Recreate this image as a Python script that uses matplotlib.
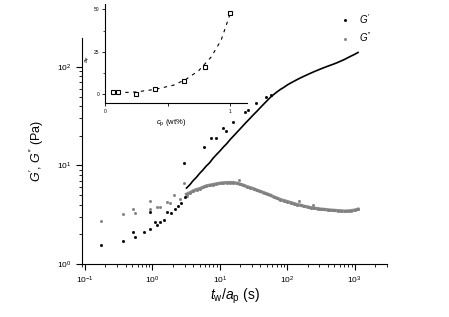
import matplotlib
matplotlib.use("Agg")
import matplotlib.pyplot as plt
from matplotlib.ticker import LogLocator, NullFormatter, FixedLocator

plt.rcParams['font.family'] = ['Liberation Sans', 'DejaVu Sans']
plt.rcParams['mathtext.fontset'] = 'custom'
plt.rcParams['mathtext.rm'] = 'Liberation Sans'
plt.rcParams['mathtext.it'] = 'Liberation Sans:italic'

# ---- main data: G' (storage) ----
gp_sparse_t = [0.17, 0.36, 0.515, 0.55, 0.75, 0.92, 0.92, 1.1, 1.17, 1.3, 1.49,
               1.65, 1.91, 2.19, 2.4, 2.63, 2.95, 3.05,
               5.77, 7.5, 8.9, 11.1, 12.2, 15.7, 23.4, 25.9, 34.9, 49, 58]
gp_sparse = [1.56, 1.71, 2.13, 1.89, 2.13, 2.28, 3.37, 2.69, 2.47, 2.69, 2.82,
             3.37, 3.32, 3.64, 3.9, 4.19, 10.7, 4.82,
             15.3, 18.9, 19.2, 23.9, 22.6, 27.8, 35.2, 36.6, 42.7, 50, 52]

gp_t = [3.2, 3.6, 4.0, 4.5, 5.0, 5.6, 6.3, 7.0, 7.9, 8.9, 10, 11.2, 12.6, 14.1,
        15.8, 17.8, 20, 22.4, 25.1, 28.2, 31.6, 35.5, 39.8, 44.7, 50, 56, 63,
        71, 79, 89, 100, 112, 126, 141, 158, 178, 200, 224, 251, 282, 316, 355,
        398, 447, 501, 562, 631, 708, 794, 891, 1000, 1120]
gp = [5.9, 6.4, 7.0, 7.6, 8.3, 9.0, 9.9, 10.6, 11.8, 12.9, 14.0, 15.3, 16.6,
      18.2, 19.8, 21.6, 23.5, 25.6, 27.8, 30.2, 32.8, 35.5, 38.6, 41.9, 45.3,
      49, 52.5, 56, 59, 62, 65.5, 68.5, 71.5, 74.5, 77.5, 80.5, 83.5, 86.5,
      89.5, 92.5, 95.5, 98.5, 101.5, 104.5, 107.5, 111, 115, 119, 124, 129,
      134, 140]

# ---- main data: G'' (loss) ----
gpp_sparse_t = [0.17, 0.36, 0.515, 0.55, 0.92, 0.92, 1.17, 1.3, 1.65, 1.85,
                2.1, 2.54, 2.95, 3.2, 19, 150, 240]
gpp_sparse = [2.75, 3.2, 3.6, 3.3, 4.4, 3.6, 3.8, 3.8, 4.3, 4.15,
              5.0, 4.6, 6.6, 4.9, 7.1, 4.4, 4.0]

gpp_t = [3.2, 3.6, 4.0, 4.5, 5.0, 5.6, 6.3, 7.1, 7.9, 8.9, 10, 11.2, 12.6,
         14.1, 15.8, 17.8, 20, 22.4, 25.1, 28.2, 31.6, 35.5, 39.8, 44.7, 50,
         56, 63, 71, 79, 89, 100, 112, 126, 141, 158, 178, 200, 224, 251, 282,
         316, 355, 398, 447, 501, 562, 631, 708, 794, 891, 1000, 1120]
gpp = [5.1, 5.3, 5.5, 5.7, 5.8, 6.0, 6.2, 6.3, 6.4, 6.5, 6.6, 6.65, 6.7, 6.7,
       6.7, 6.6, 6.45, 6.3, 6.1, 5.95, 5.8, 5.6, 5.45, 5.3, 5.15, 5.0, 4.8,
       4.65, 4.5, 4.4, 4.3, 4.2, 4.1, 4.0, 3.95, 3.85, 3.8, 3.72, 3.68, 3.65,
       3.6, 3.58, 3.55, 3.52, 3.5, 3.48, 3.46, 3.44, 3.45, 3.48, 3.52, 3.6]

# ---- inset data: a_p vs c_p ----
cp = [0.06, 0.104, 0.248, 0.40, 0.63, 0.80, 1.0]
ap = [1.3, 1.3, 0.5, 3.1, 8.1, 16.3, 47.8]
fit_cp = [0.10, 0.25, 0.40, 0.55, 0.65, 0.75, 0.85, 0.93, 1.0]
fit_ap = [1.0, 1.5, 3.0, 5.5, 9.0, 14.0, 22.0, 32.0, 47.0]

BLACK = '#000000'
GREY = '#808080'

fig = plt.figure(figsize=(4.49, 3.17), dpi=100)
ax = fig.add_axes([0.1826, 0.167, 0.679, 0.713])

ax.plot(gpp_t, gpp, color=GREY, lw=2.4, alpha=0.9)
ax.plot(gpp_t, gpp, ls='none', marker='s', ms=1.0, color=GREY)
ax.plot(gpp_sparse_t, gpp_sparse, ls='none', marker='s', ms=1.0, color=GREY)
ax.plot(gp_t, gp, color=BLACK, lw=1.2)
ax.plot(gp_sparse_t, gp_sparse, ls='none', marker='s', ms=1.0, color=BLACK)

ax.set_xscale('log')
ax.set_yscale('log')
ax.set_xlim(0.09, 3000)
ax.set_ylim(1, 196)
ax.spines['top'].set_visible(False)
ax.spines['right'].set_visible(False)
ax.xaxis.set_major_locator(LogLocator(base=10, numticks=10))
ax.xaxis.set_minor_locator(LogLocator(base=10, subs=range(2, 10), numticks=20))
ax.xaxis.set_minor_formatter(NullFormatter())
ax.yaxis.set_minor_formatter(NullFormatter())
ax.tick_params(which='major', length=4, width=0.8, labelsize=6)
ax.tick_params(which='minor', length=2, width=0.6)
ax.set_xlabel(r"$t_{\rm w}/a_{\rm p}$ (s)", fontsize=10, labelpad=1)
ax.set_ylabel(r"$G'$, $G''$ (Pa)", fontsize=9, labelpad=8)

# legend
h1, = ax.plot([], [], ls='none', marker='s', ms=1.0, color=BLACK, label=r"$G'$")
h2, = ax.plot([], [], ls='none', marker='s', ms=1.0, color=GREY, label=r"$G''$")
fig.legend(handles=[h1, h2], loc='upper left', bbox_to_anchor=(0.735, 0.99),
           frameon=False, fontsize=7, handlelength=1.2, labelspacing=0.5,
           handletextpad=0.9)

# inset
ins = fig.add_axes([0.234, 0.675, 0.316, 0.312])
ins.plot(fit_cp, fit_ap, color=BLACK, ls=(0, (3, 4)), lw=0.8)
ins.plot(cp, ap, ls='none', marker='s', ms=3.5, mfc='white', mec=BLACK, mew=0.8)
ins.set_xlim(0, 1.136)
ins.set_ylim(-5, 53)
ins.spines['top'].set_visible(False)
ins.spines['right'].set_visible(False)
ins.xaxis.set_major_locator(FixedLocator([0, 0.5, 1]))
ins.set_xticklabels(['0', '', '1'])
ins.yaxis.set_major_locator(FixedLocator([0, 25, 50]))
ins.yaxis.set_minor_locator(FixedLocator([12.5, 37.5]))
ins.tick_params(which='major', length=2.5, width=0.6, labelsize=3.5, pad=1.5)
ins.tick_params(which='minor', length=1.5, width=0.5)
fig.text(0.381, 0.612, r"$c_{\rm p}$ (wt%)", fontsize=5.5, ha='center', va='center')
fig.text(0.197, 0.815, r"$a_{\rm p}$", fontsize=4.5, ha='center', va='center', rotation=90)

fig.savefig('out.png', dpi=100)
